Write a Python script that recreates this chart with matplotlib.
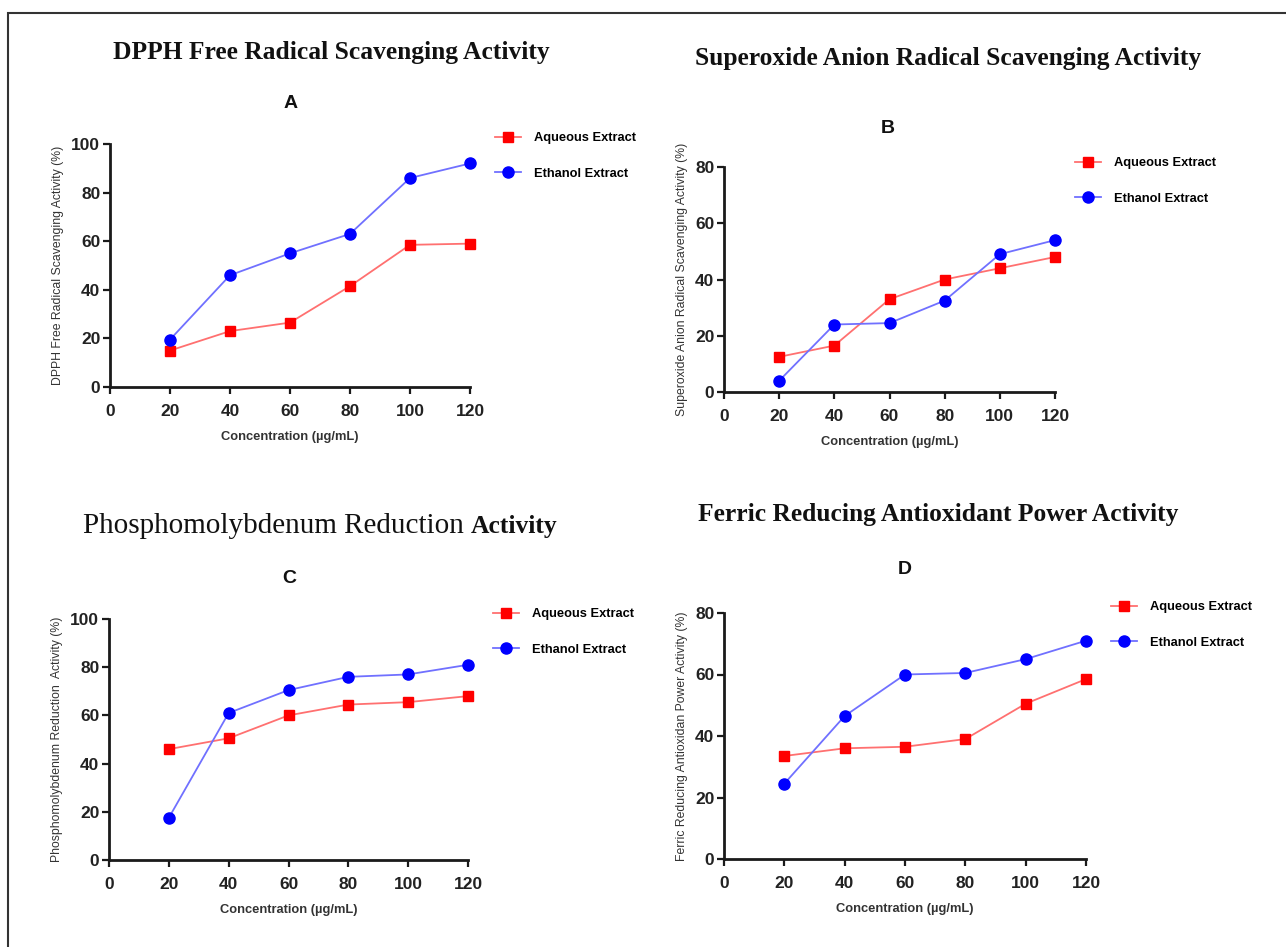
import matplotlib.pyplot as plt
from matplotlib.lines import Line2D
from matplotlib.patches import Rectangle

W, H = 1286, 947

conc = [20, 40, 60, 80, 100, 120]

dpph_aq = [15, 23, 26.5, 41.5, 58.5, 59]
dpph_eth = [19.5, 46, 55, 63, 86, 92]

sup_aq = [12.5, 16.5, 33, 40, 44, 48]
sup_eth = [4, 24, 24.5, 32.5, 49, 54]

phos_aq = [46, 50.5, 60, 64.5, 65.5, 68]
phos_eth = [17.5, 61, 70.5, 76, 77, 81]

frap_aq = [33.5, 36, 36.5, 39, 50.5, 58.5]
frap_eth = [24.5, 46.5, 60, 60.5, 65, 71]

labels = ["Aqueous Extract", "Ethanol Extract"]


def fx(x):
    return x / W


def fy(y):
    return 1 - y / H


def make_axes(left, right, top, bottom):
    return fig.add_axes([fx(left), fy(bottom), fx(right - left), (bottom - top) / H])


def style(ax, ymax, ylabel):
    ax.set_xlim(0, 120)
    ax.set_ylim(0, ymax)
    ax.set_xticks(range(0, 121, 20))
    ax.set_yticks(range(0, ymax + 1, 20))
    for s in ['top', 'right']:
        ax.spines[s].set_visible(False)
    for s in ['left', 'bottom']:
        ax.spines[s].set_linewidth(2)
        ax.spines[s].set_color('#1a1a1a')
    ax.tick_params(direction='out', length=5, width=1.6, color='#1a1a1a')
    ax.tick_params(axis='x', pad=7)
    ax.tick_params(axis='y', pad=2)
    for t in ax.get_xticklabels() + ax.get_yticklabels():
        t.set_fontweight('bold')
        t.set_fontsize(12.5)
        t.set_color('#222222')
        t.set_family('Liberation Sans')
    ax.set_xlabel("Concentration (µg/mL)", fontsize=9.3, fontweight='bold',
                  color='#333333', family='Liberation Sans', labelpad=9)
    ax.set_ylabel(ylabel, fontsize=8.8, color='#333333', family='Liberation Sans', labelpad=5)


def draw(ax, aq, eth):
    ax.plot(conc, aq, color='#ff7070', lw=1.3, zorder=3)
    ax.plot(conc, aq, ls='none', marker='s', ms=7.5, color='#ff0000', zorder=4, clip_on=False)
    ax.plot(conc, eth, color='#7070ff', lw=1.3, zorder=3)
    ax.plot(conc, eth, ls='none', marker='o', ms=8, color='#0000ff', zorder=4, clip_on=False)


def legend(x, y):
    handles = [
        Line2D([], [], color='#ff7070', lw=1.3, marker='s', ms=7.5,
               markerfacecolor='#ff0000', markeredgecolor='#ff0000'),
        Line2D([], [], color='#7070ff', lw=1.3, marker='o', ms=8,
               markerfacecolor='#0000ff', markeredgecolor='#0000ff'),
    ]
    fig.legend(handles, labels, loc='upper left', bbox_to_anchor=(fx(x), fy(y)),
               frameon=False, borderpad=0, borderaxespad=0, handlelength=2.0,
               handletextpad=1.0, labelspacing=1.85,
               prop={'family': 'Liberation Sans', 'weight': 'bold', 'size': 9.3})


fig = plt.figure(figsize=(W / 100, H / 100), dpi=100)

# outer frame (runs off the right and bottom edges)
fig.patches.append(Rectangle((fx(8), fy(1000)), fx(1400), fy(13) - fy(1000),
                             transform=fig.transFigure, fill=False,
                             edgecolor='#333333', lw=1.5))

title_kw = dict(family='Liberation Serif', fontweight='bold', fontsize=18.4, color='#111111')
letter_kw = dict(family='Liberation Sans', fontweight='bold', fontsize=14, color='#111111',
                 ha='center', va='center')

# A
axA = make_axes(110, 470, 144, 387)
draw(axA, dpph_aq, dpph_eth)
style(axA, 100, "DPPH Free Radical Scavenging Activity (%)")
fig.text(fx(331), fy(52), "DPPH Free Radical Scavenging Activity", ha='center', va='center', **title_kw)
fig.text(fx(291), fy(103), "A", **letter_kw)
legend(495, 132)

# B
axB = make_axes(724, 1055, 167, 392)
draw(axB, sup_aq, sup_eth)
style(axB, 80, "Superoxide Anion Radical Scavenging Activity (%)")
fig.text(fx(948), fy(58), "Superoxide Anion Radical Scavenging Activity", ha='center', va='center', **title_kw)
fig.text(fx(888), fy(128), "B", **letter_kw)
legend(1075, 157)

# C
axC = make_axes(109, 468, 619, 860)
draw(axC, phos_aq, phos_eth)
style(axC, 100, "Phosphomolybdenum Reduction  Activity (%)")
fig.text(fx(464), fy(533), "Phosphomolybdenum Reduction", ha='right', va='baseline',
         family='Liberation Serif', fontsize=21, color='#111111')
fig.text(fx(471), fy(533), "Activity", ha='left', va='baseline', **title_kw)
fig.text(fx(289), fy(578), "C", **letter_kw)
legend(493, 608)

# D
axD = make_axes(724, 1086, 613, 859)
draw(axD, frap_aq, frap_eth)
style(axD, 80, "Ferric Reducing Antioxidan Power Activity (%)")
fig.text(fx(938), fy(515), "Ferric Reducing Antioxidant Power Activity", ha='center', va='center', **title_kw)
fig.text(fx(905), fy(570), "D", **letter_kw)
legend(1111, 601)

fig.savefig("out.png", dpi=100)
